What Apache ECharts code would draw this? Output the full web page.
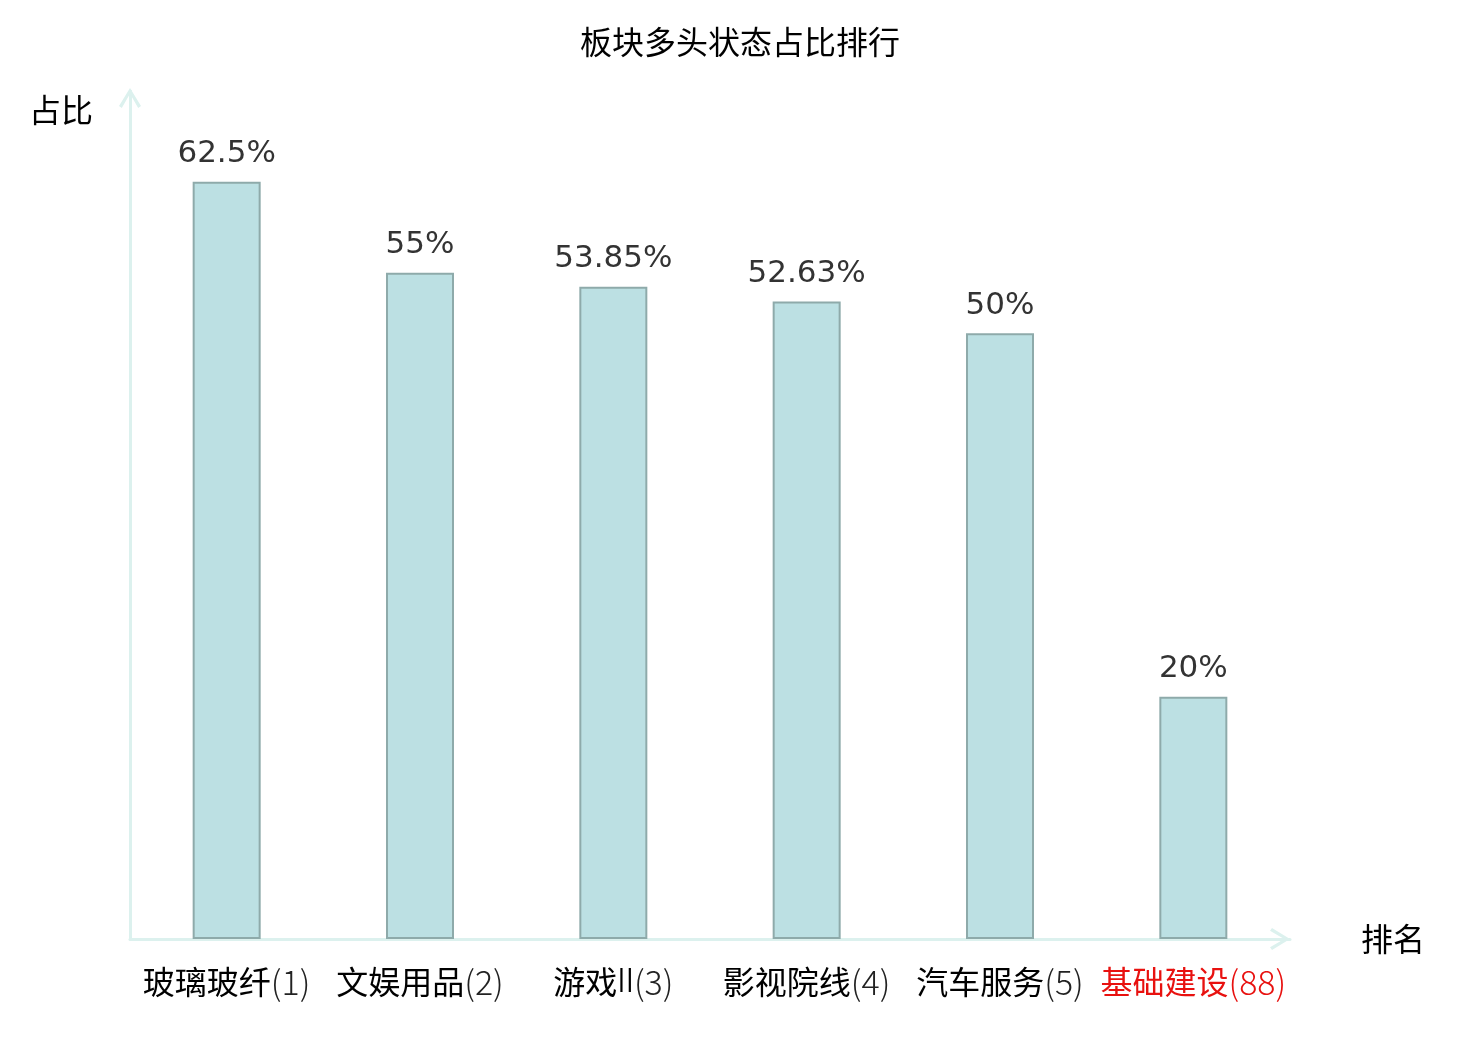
<!DOCTYPE html>
<html>
<head>
<meta charset="utf-8">
<script src="https://cdn.jsdelivr.net/npm/echarts@6/dist/echarts.min.js"></script>
<style>html,body{margin:0;padding:0;background:#fff}#c{width:1480px;height:1040px}</style>
</head>
<body>
<div id="c"></div>
<script>
const sectors = ['玻璃玻纤', '文娱用品', '游戏Ⅱ', '影视院线', '汽车服务', '基础建设'];
const ranks = [1, 2, 3, 4, 5, 88];
const ratios = [62.5, 55, 53.85, 52.63, 50, 20];
const focusSector = '基础建设';
const yMax = 70;

const chart = echarts.init(document.getElementById('c'));
const arrowPath = 'path://M11 0 L22 18 L19.2 20 L11 5.8 L2.8 20 L0 18 Z';
const axisColor = '#dcf1ee';
const cjk = '"Noto Sans CJK SC", sans-serif';
const latinNum = 'Inter, Lato, "Open Sans", Roboto, "Liberation Sans", "DejaVu Sans", sans-serif';
const FS = 32;
const RFS = 34;

function nameRich(v, red) {
  let out = '';
  const parts = v.match(/[\u4e00-\u9fff]+|[^\u4e00-\u9fff]+/g) || [];
  parts.forEach(function (p) {
    const isCjk = /[\u4e00-\u9fff]/.test(p);
    const key = (red ? 'red_' : '') + (isCjk ? 'n' : 'l');
    out += '{' + key + '|' + p + '}';
  });
  return out;
}

chart.setOption({
  backgroundColor: '#fff',
  animation: false,
  title: {
    text: '板块多头状态占比排行',
    left: 'center',
    top: 21,
    textStyle: { fontFamily: cjk, fontSize: FS, fontWeight: 'normal', color: '#000' }
  },
  grid: { left: 130, right: 190, top: 91, bottom: 101 },
  xAxis: {
    type: 'category',
    data: sectors,
    name: '排名',
    nameLocation: 'end',
    nameGap: 71,
    nameTextStyle: { fontFamily: cjk, fontSize: FS, color: '#000' },
    axisLine: {
      show: true,
      symbol: ['none', arrowPath],
      symbolSize: [22, 20],
      symbolOffset: [0, -10],
      lineStyle: { color: axisColor, width: 3 }
    },
    axisTick: { show: false },
    axisLabel: {
      margin: 26,
      interval: 0,
      formatter: function (v, i) {
        const red = v === focusSector;
        return nameRich(v, red) + '{' + (red ? 'red_r' : 'r') + '|(' + ranks[i] + ')}';
      },
      rich: {
        n: { fontFamily: cjk, fontSize: FS, color: '#000' },
        l: { fontFamily: latinNum, fontSize: FS, color: '#000', fontWeight: 300 },
        r: { fontFamily: cjk, fontSize: RFS, color: '#222', fontWeight: 300 },
        red_n: { fontFamily: cjk, fontSize: FS, color: '#e8110f' },
        red_l: { fontFamily: latinNum, fontSize: FS, color: '#e8110f', fontWeight: 300 },
        red_r: { fontFamily: cjk, fontSize: RFS, color: '#e8110f', fontWeight: 300 }
      }
    }
  },
  yAxis: {
    type: 'value',
    min: 0,
    max: yMax,
    name: '占比',
    nameLocation: 'end',
    nameGap: -19,
    nameTextStyle: { fontFamily: cjk, fontSize: FS, color: '#000', align: 'right', verticalAlign: 'middle', padding: [0, 37, 0, 0] },
    axisLine: {
      show: true,
      symbol: ['none', arrowPath],
      symbolSize: [22, 20],
      symbolOffset: [0, -7],
      lineStyle: { color: axisColor, width: 3 }
    },
    axisTick: { show: false },
    axisLabel: { show: false },
    splitLine: { show: false }
  },
  series: [{
    type: 'bar',
    data: ratios,
    barWidth: 68,
    itemStyle: { color: '#bce0e3', borderColor: '#8eaaaa', borderWidth: 2 },
    label: {
      show: true,
      position: 'top',
      distance: 12,
      formatter: function (p) { return p.value + '%'; },
      fontFamily: '"DejaVu Sans", sans-serif',
      fontSize: 31,
      color: '#333'
    }
  }]
});
</script>
</body>
</html>
